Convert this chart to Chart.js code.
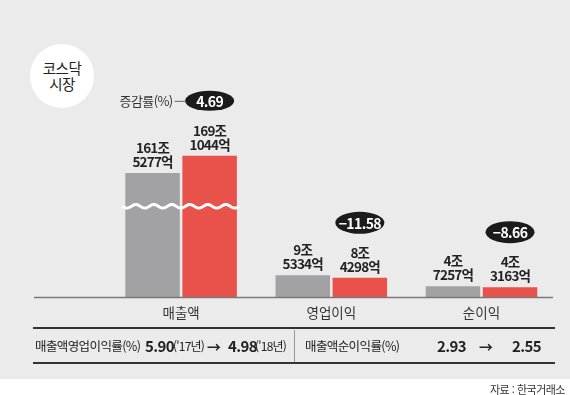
<!DOCTYPE html>
<html lang="ko">
<head>
<meta charset="utf-8">
<script src="https://cdn.jsdelivr.net/npm/chart.js@4.4.1/dist/chart.umd.min.js"></script>
<style>
  html, body { margin: 0; padding: 0; }
  body {
    width: 570px; height: 395px; position: relative; overflow: hidden;
    background: #fff; color: #222;
    font-family: 'Noto Sans CJK KR', 'Noto Sans', sans-serif;
  }
  #bg { position: absolute; left: 0; top: 0; width: 570px; height: 379px; background: #ebebeb; }
  #grafico { position: absolute; left: 0; top: 0; }
  .circulo {
    position: absolute; left: 30px; top: 44px; width: 64px; height: 64px;
    border-radius: 50%; background: #fff; text-align: center;
    font-size: 14.5px; line-height: 16px; letter-spacing: -0.5px; color: #222;
    display: flex; align-items: center; justify-content: center;
  }
  .linea { position: absolute; left: 33px; width: 522px; border-top: 2px solid #333; }
  .divisor { position: absolute; left: 294px; top: 330px; height: 32px; border-left: 1px solid #999; }
  .txt { position: absolute; top: 336px; height: 20px; line-height: 20px; white-space: nowrap; color: #222; }
  .nombre { font-size: 12.5px; letter-spacing: -0.6px; }
  .num { font-size: 15px; font-weight: bold; letter-spacing: -0.6px; }
  .anio { font-size: 12px; letter-spacing: -0.8px; }
  .flecha { font-size: 14px; font-weight: bold; }
  .fuente { position: absolute; right: 5px; top: 381px; font-size: 11px; letter-spacing: -0.5px; color: #333; }
</style>
</head>
<body>
<div id="bg"></div>
<canvas id="grafico" width="570" height="395"></canvas>
<div class="circulo"><div>코스닥<br>시장</div></div>
<div class="linea" style="top:327px"></div>
<div class="linea" style="top:362px"></div>
<div class="divisor"></div>
<div id="tabla"></div>
<div class="fuente">자료 : 한국거래소</div>

<script>
// 단위: 조 원 (소수점 아래 = 억 / 10000)
const categorias = ['매출액', '영업이익', '순이익'];
const valores2017 = [161.5277, 9.5334, 4.7257];
const valores2018 = [169.1044, 8.4298, 4.3163];
const tasaCambio = [4.69, -11.58, -8.66];
const margenOperativo = [5.90, 4.98];
const margenNeto = [2.93, 2.55];

const FUENTE = "'Noto Sans CJK KR', 'Noto Sans', sans-serif";
const CORTE_DESDE = 40;
const CORTE_HASTA = 146.8;

function comprimir(v) {
  if (v <= CORTE_DESDE) return v;
  if (v >= CORTE_HASTA) return v - (CORTE_HASTA - CORTE_DESDE);
  return CORTE_DESDE;
}

// escala lineal con eje cortado
class EscalaCortada extends Chart.LinearScale {
  getPixelForValue(value) {
    return super.getPixelForValue(comprimir(value));
  }
}
EscalaCortada.id = 'cortada';
EscalaCortada.defaults = Chart.LinearScale.defaults;
Chart.register(EscalaCortada);

function etiquetaValor(v) {
  const jo = Math.floor(v);
  const eok = Math.round((v - jo) * 10000);
  return [jo + '조', eok + '억'];
}

function formatoTasa(t) {
  return (t < 0 ? '−' : '') + Math.abs(t).toFixed(2);
}

const pluginEtiquetas = {
  id: 'etiquetas',
  afterDatasetsDraw(chart) {
    const ctx = chart.ctx;
    const area = chart.chartArea;
    const y = chart.scales.y;
    const m0 = chart.getDatasetMeta(0);
    const m1 = chart.getDatasetMeta(1);

    ctx.save();
    // linea base
    ctx.strokeStyle = '#7a7a7a';
    ctx.lineWidth = 1.5;
    ctx.beginPath();
    ctx.moveTo(34, area.bottom + 0.5);
    ctx.lineTo(553, area.bottom + 0.5);
    ctx.stroke();

    // zigzag del corte en 매출액
    const yCorte = y.getPixelForValue(CORTE_DESDE);
    const b0 = m0.data[0], b1 = m1.data[0];
    const x0 = b0.x - b0.width / 2 - 3;
    const x1 = b1.x + b1.width / 2 + 3;
    ctx.strokeStyle = '#ffffff';
    ctx.lineWidth = 3;
    ctx.beginPath();
    for (let x = x0; x <= x1; x += 1) {
      const yy = yCorte + 1.8 * Math.sin((x - x0) / 18 * Math.PI * 2);
      if (x === x0) ctx.moveTo(x, yy); else ctx.lineTo(x, yy);
    }
    ctx.stroke();

    // etiquetas de valor
    ctx.fillStyle = '#222';
    ctx.textAlign = 'center';
    ctx.textBaseline = 'middle';
    ctx.font = 'bold 13.5px ' + FUENTE;
    ctx.letterSpacing = '-0.8px';
    [m0, m1].forEach(function (meta, d) {
      const serie = d === 0 ? valores2017 : valores2018;
      meta.data.forEach(function (bar, i) {
        const lineas = etiquetaValor(serie[i]);
        ctx.fillText(lineas[0], bar.x, bar.y - 25);
        ctx.fillText(lineas[1], bar.x, bar.y - 11);
      });
    });

    // pastillas de 증감률
    m1.data.forEach(function (bar, i) {
      const cy = bar.y - 55;
      ctx.fillStyle = '#1b1b1b';
      ctx.beginPath();
      ctx.ellipse(bar.x, cy, 24.5, i === 0 ? 10 : 11, 0, 0, Math.PI * 2);
      ctx.fill();
      ctx.fillStyle = '#fff';
      ctx.font = 'bold 14px ' + FUENTE;
      ctx.letterSpacing = '-0.6px';
      ctx.fillText(formatoTasa(tasaCambio[i]), bar.x, cy + 0.5);
      if (i === 0) {
        ctx.strokeStyle = '#666';
        ctx.lineWidth = 1;
        ctx.beginPath();
        ctx.moveTo(bar.x - 35, cy + 0.5);
        ctx.lineTo(bar.x - 24, cy + 0.5);
        ctx.stroke();
        ctx.fillStyle = '#333';
        ctx.font = '13px ' + FUENTE;
        ctx.letterSpacing = '-0.6px';
        ctx.textAlign = 'right';
        ctx.fillText('증감률(%)', bar.x - 37, cy);
        ctx.textAlign = 'center';
      }
    });
    ctx.restore();
  }
};

new Chart(document.getElementById('grafico').getContext('2d'), {
  type: 'bar',
  data: {
    labels: categorias,
    datasets: [
      { label: '2017', data: valores2017, backgroundColor: '#a2a2a4', categoryPercentage: 0.76, barPercentage: 0.955 },
      { label: '2018', data: valores2018, backgroundColor: '#e8524b', categoryPercentage: 0.76, barPercentage: 0.955 }
    ]
  },
  options: {
    responsive: false,
    animation: false,
    layout: { padding: { left: 106, right: 13.4, top: 70.5, bottom: 66.5 } },
    plugins: { legend: { display: false }, tooltip: { enabled: false } },
    scales: {
      x: {
        grid: { display: false, drawTicks: false },
        border: { display: false },
        ticks: { color: '#333', padding: 7.7, font: { size: 13.5, family: FUENTE } }
      },
      y: { type: 'cortada', display: false, min: 0, max: 100 }
    }
  },
  plugins: [pluginEtiquetas]
});

// fila de la tabla
const tabla = document.getElementById('tabla');
const celdas = [
  ['nombre', 35, '매출액영업이익률(%)'],
  ['num', 145, margenOperativo[0].toFixed(2)],
  ['anio', 173, "('17년)"],
  ['flecha', 207, '→'],
  ['num', 228, margenOperativo[1].toFixed(2)],
  ['anio', 255, "('18년)"],
  ['nombre', 305, '매출액순이익률(%)'],
  ['num', 437, margenNeto[0].toFixed(2)],
  ['flecha', 479, '→'],
  ['num', 512, margenNeto[1].toFixed(2)]
];
celdas.forEach(function (c) {
  const s = document.createElement('span');
  s.className = 'txt ' + c[0];
  s.style.left = c[1] + 'px';
  s.textContent = c[2];
  tabla.appendChild(s);
});
</script>
</body>
</html>
